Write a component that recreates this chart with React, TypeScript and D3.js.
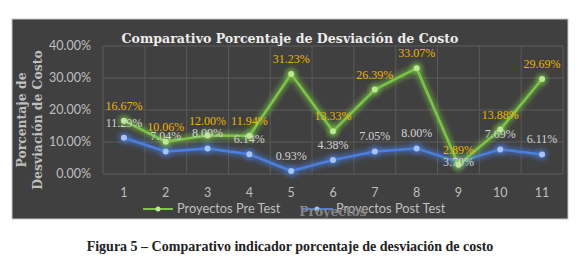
import React from "react";
import * as d3 from "d3";

const categories = ["1", "2", "3", "4", "5", "6", "7", "8", "9", "10", "11"];
const preTest = [16.67, 10.06, 12.0, 11.94, 31.23, 13.33, 26.39, 33.07, 2.89, 13.88, 29.69];
const postTest = [11.29, 7.04, 8.0, 6.14, 0.93, 4.38, 7.05, 8.0, 3.7, 7.69, 6.11];
const yTicks = [0, 10, 20, 30, 40];
const seriesNames = ["Proyectos Pre Test", "Proyectos Post Test"];
const title = "Comparativo Porcentaje de Desviación de Costo";
const yTitle = ["Porcentaje de", "Desviación de Costo"];
const xTitle = "Proyectos";
const caption = "Figura 5 – Comparativo indicador porcentaje de desviación de costo";

const W = 580;
const H = 265;
const plot = { left: 103, right: 563, top: 46, bottom: 174 };
const GREEN = "#7cc646";
const GREEN_MARK = "#bde892";
const BLUE = "#4a7fe0";
const BLUE_MARK = "#a8c3f4";
const serif = "'Liberation Serif', 'DejaVu Serif', serif";
const wideSerif = "'DejaVu Serif', 'Liberation Serif', serif";
const sans = "Lato, 'Liberation Sans', sans-serif";

export default function App() {
  const x = d3.scaleBand<string>().domain(categories).range([plot.left, plot.right]).padding(0);
  const y = d3.scaleLinear().domain([0, 40]).range([plot.bottom, plot.top]);
  const cx = (c: string) => (x(c) as number) + x.bandwidth() / 2;
  const line = d3
    .line<number>()
    .x((_, i) => cx(categories[i]))
    .y((d) => y(d));
  const fmt = (v: number) => v.toFixed(2) + "%";

  const series = [
    { data: postTest, color: BLUE, mark: BLUE_MARK, labelColor: "#d4d4d4", id: "b" },
    { data: preTest, color: GREEN, mark: GREEN_MARK, labelColor: "#f0b400", id: "g" },
  ];

  return (
    <svg width={W} height={H} style={{ position: "absolute", left: 0, top: 0 }}>
      <defs>
        <filter id="glow" x="-20%" y="-50%" width="140%" height="200%">
          <feGaussianBlur stdDeviation="2.8" />
        </filter>
      </defs>
      <rect x={0} y={0} width={W} height={H} fill="#ffffff" />
      <rect x={12} y={19} width={556} height={200} fill="#404040" stroke="#c8c8c8" strokeWidth={1} />

      {/* gridlines */}
      {yTicks.map((t) => (
        <line key={"h" + t} x1={plot.left} x2={plot.right} y1={y(t)} y2={y(t)} stroke="#5a5a5a" strokeWidth={1} />
      ))}
      {categories.map((c) => (
        <line key={"v" + c} x1={x(c) as number} x2={x(c) as number} y1={plot.top} y2={plot.bottom} stroke="#5a5a5a" strokeWidth={1} />
      ))}
      <line x1={plot.right} x2={plot.right} y1={plot.top} y2={plot.bottom} stroke="#5a5a5a" strokeWidth={1} />

      {/* title */}
      <text x={290} y={43} textAnchor="middle" fontFamily={wideSerif} fontWeight="bold" fontSize={12.6} fill="#ececec">
        {title}
      </text>

      {/* y axis title */}
      <g transform="translate(0,120) rotate(-90)">
        <text x={0} y={26} textAnchor="middle" fontFamily={wideSerif} fontWeight="bold" fontSize={12.4} fill="#bfbfbf">
          {yTitle[0]}
        </text>
        <text x={0} y={42} textAnchor="middle" fontFamily={wideSerif} fontWeight="bold" fontSize={12.4} fill="#bfbfbf">
          {yTitle[1]}
        </text>
      </g>

      {/* y tick labels */}
      {yTicks.map((t) => (
        <text key={"yt" + t} x={91} y={y(t) + 4} textAnchor="end" fontFamily={sans} fontSize={12.5} fill="#bfbfbf">
          {t.toFixed(2) + "%"}
        </text>
      ))}

      {/* x tick labels */}
      {categories.map((c) => (
        <text key={"xt" + c} x={cx(c)} y={197} textAnchor="middle" fontFamily={sans} fontSize={12.5} fill="#bfbfbf">
          {c}
        </text>
      ))}

      {/* series */}
      {series.map((s) => (
        <g key={s.id}>
          <path d={line(s.data) as string} fill="none" stroke={s.color} strokeWidth={7} opacity={0.55} filter="url(#glow)" />
          <path d={line(s.data) as string} fill="none" stroke={s.color} strokeWidth={2.5} strokeLinejoin="round" />
          {s.data.map((v, i) => (
            <g key={i}>
              <circle cx={cx(categories[i])} cy={y(v)} r={5.5} fill={s.color} opacity={0.6} filter="url(#glow)" />
              <circle cx={cx(categories[i])} cy={y(v)} r={3} fill={s.mark} />
            </g>
          ))}
        </g>
      ))}

      {/* data labels */}
      {series.map((s) =>
        s.data.map((v, i) => (
          <text
            key={s.id + "l" + i}
            x={cx(categories[i])}
            y={y(v) - (s.id === "b" && i === 8 ? -4 : 11)}
            textAnchor="middle"
            fontFamily={serif}
            fontSize={12}
            fill={s.labelColor}
          >
            {fmt(v)}
          </text>
        ))
      )}

      {/* legend */}
      <g>
        <line x1={143} x2={173} y1={209} y2={209} stroke={GREEN} strokeWidth={2} />
        <circle cx={158} cy={209} r={2.5} fill={GREEN_MARK} />
        <text x={177} y={213} fontFamily={sans} fontSize={12.8} fill="#bfbfbf">
          {seriesNames[0]}
        </text>
        <line x1={302} x2={333} y1={209} y2={209} stroke={BLUE} strokeWidth={2} />
        <circle cx={317} cy={209} r={2.5} fill={BLUE_MARK} />
        <text x={336} y={213} fontFamily={sans} fontSize={12.8} fill="#bfbfbf">
          {seriesNames[1]}
        </text>
      </g>

      {/* x axis title */}
      <text x={333} y={216} textAnchor="middle" fontFamily={wideSerif} fontWeight="bold" fontSize={12.4} fill="#858585">
        {xTitle}
      </text>

      {/* caption */}
      <text x={290} y={251} textAnchor="middle" fontFamily={serif} fontWeight="bold" fontSize={14} fill="#222222">
        {caption}
      </text>
    </svg>
  );
}
